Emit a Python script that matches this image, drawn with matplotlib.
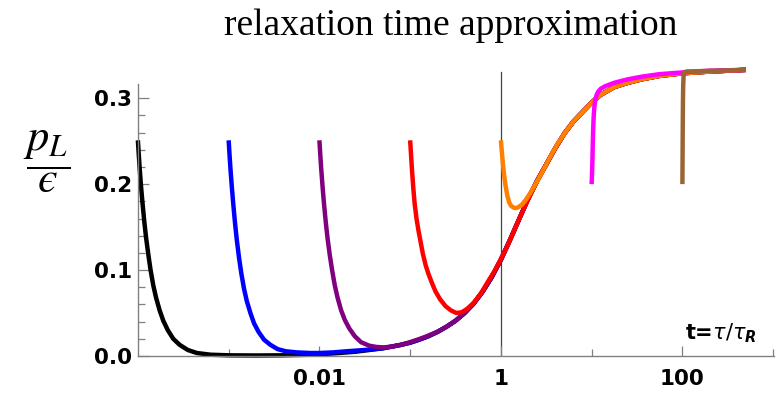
import numpy as np
import matplotlib
matplotlib.use("Agg")
import matplotlib.pyplot as plt
from matplotlib.ticker import FixedLocator, FixedFormatter, NullFormatter

# common late-time curve (log10 t, p_L/eps) that all solutions collapse onto
att_lgt = np.array([-1.3, -1.2, -1.1, -1.0, -0.9, -0.8, -0.7, -0.6, -0.5, -0.4, -0.3, -0.2, -0.1,
                    0.0, 0.1, 0.2, 0.3, 0.4, 0.5, 0.6, 0.7, 0.8, 0.9, 1.0, 1.1, 1.25, 1.4,
                    1.55, 1.75, 2.0, 2.3, 2.7])
att_pl = np.array([0.009, 0.011, 0.013, 0.0155, 0.019, 0.023, 0.028, 0.034, 0.041, 0.050, 0.061,
                   0.075, 0.092, 0.112, 0.135, 0.159, 0.183, 0.204, 0.223, 0.242, 0.259, 0.273,
                   0.284, 0.295, 0.304, 0.313, 0.318, 0.322, 0.326, 0.329, 0.331, 0.333])

# early-time parts of each solution, one per initial time
black_lgt = [-4.0, -3.99, -3.98, -3.965, -3.95, -3.93, -3.91, -3.885, -3.86, -3.83, -3.80, -3.76,
             -3.72, -3.67, -3.61, -3.54, -3.45, -3.35, -3.2, -3.0, -2.7, -2.4, -2.1, -1.85, -1.6]
black_pl = [0.251, 0.234, 0.218, 0.197, 0.179, 0.157, 0.138, 0.118, 0.100, 0.082, 0.068, 0.053,
            0.041, 0.030, 0.020, 0.013, 0.007, 0.0035, 0.0015, 0.0008, 0.0006, 0.0008, 0.0015,
            0.003, 0.005]

blue_lgt = [-3.0, -2.99, -2.98, -2.965, -2.95, -2.93, -2.91, -2.885, -2.86, -2.83, -2.80, -2.76,
            -2.72, -2.67, -2.61, -2.54, -2.46, -2.37, -2.25, -2.1, -2.0, -1.85, -1.7, -1.5]
blue_pl = [0.251, 0.234, 0.218, 0.197, 0.178, 0.155, 0.135, 0.114, 0.096, 0.078, 0.064, 0.050,
           0.038, 0.028, 0.019, 0.013, 0.008, 0.0055, 0.0042, 0.0035, 0.0035, 0.0042, 0.0055, 0.007]

purple_lgt = [-2.0, -1.99, -1.98, -1.965, -1.95, -1.93, -1.91, -1.885, -1.86, -1.83, -1.80, -1.76,
              -1.72, -1.67, -1.61, -1.54, -1.45, -1.37, -1.29, -1.2, -1.11, -1.02, -0.93, -0.84]
purple_pl = [0.251, 0.234, 0.218, 0.197, 0.178, 0.156, 0.137, 0.117, 0.100, 0.082, 0.068, 0.053,
             0.042, 0.032, 0.023, 0.016, 0.012, 0.0105, 0.010, 0.011, 0.0128, 0.0155, 0.0186, 0.022]

red_lgt = [-1.0, -0.99, -0.98, -0.965, -0.95, -0.93, -0.91, -0.885, -0.86, -0.83, -0.80, -0.76,
           -0.72, -0.67, -0.61, -0.55, -0.49, -0.43, -0.37, -0.30, -0.22, -0.14, -0.07, 0.0,
           0.08, 0.15, 0.22, 0.3]
red_pl = [0.251, 0.234, 0.217, 0.195, 0.177, 0.160, 0.147, 0.133, 0.119, 0.106, 0.096, 0.085,
          0.075, 0.066, 0.058, 0.053, 0.050, 0.051, 0.055, 0.062, 0.073, 0.087, 0.099, 0.113,
          0.130, 0.147, 0.164, 0.182]

orange_lgt = [0.0, 0.01, 0.02, 0.035, 0.05, 0.07, 0.09, 0.11, 0.135, 0.16, 0.19, 0.23, 0.27,
              0.32, 0.37, 0.42, 0.48, 0.55, 0.62, 0.7, 0.8, 0.9, 1.0, 1.1]
orange_pl = [0.251, 0.238, 0.226, 0.211, 0.199, 0.187, 0.179, 0.175, 0.173, 0.172, 0.173, 0.176,
             0.181, 0.189, 0.198, 0.207, 0.219, 0.233, 0.246, 0.259, 0.273, 0.284, 0.295, 0.304]

magenta_lgt = [1.0, 1.004, 1.008, 1.012, 1.016, 1.022, 1.03, 1.04, 1.055, 1.075, 1.1, 1.15, 1.25,
               1.4, 1.55, 1.75, 2.0, 2.3, 2.7]
magenta_pl = [0.200, 0.212, 0.226, 0.245, 0.262, 0.278, 0.290, 0.298, 0.304, 0.308, 0.311, 0.314,
              0.318, 0.322, 0.325, 0.328, 0.330, 0.332, 0.333]

brown_lgt = [2.0, 2.002, 2.004, 2.006, 2.009, 2.013, 2.02, 2.04, 2.2, 2.45, 2.7]
brown_pl = [0.200, 0.235, 0.270, 0.297, 0.316, 0.326, 0.330, 0.331, 0.3315, 0.3322, 0.333]

x_major = [0.01, 1, 100]
x_major_labels = ["0.01", "1", "100"]
x_minor = [0.001, 0.1, 10, 1000]
y_major = [0.0, 0.1, 0.2, 0.3]
y_major_labels = ["0.0", "0.1", "0.2", "0.3"]
y_minor = [0.02, 0.04, 0.06, 0.08, 0.12, 0.14, 0.16, 0.18, 0.22, 0.24, 0.26, 0.28]


def join_tail(lgt, pl):
    # append the shared curve after the last early-time point
    keep = att_lgt > lgt[-1] + 0.05
    t = 10.0 ** np.concatenate([lgt, att_lgt[keep]])
    return t, np.concatenate([pl, att_pl[keep]])


curves = [
    (join_tail(black_lgt, black_pl), "black"),
    (join_tail(blue_lgt, blue_pl), "#0000ff"),
    (join_tail(purple_lgt, purple_pl), "#800080"),
    (join_tail(red_lgt, red_pl), "#ff0000"),
    (join_tail(orange_lgt, orange_pl), "#ff8000"),
    ((10.0 ** np.array(magenta_lgt), np.array(magenta_pl)), "#ff00ff"),
    ((10.0 ** np.array(brown_lgt), np.array(brown_pl)), "#996633"),
]

fig = plt.figure(figsize=(7.79, 3.96), dpi=100)
ax = fig.add_axes([0.177, 0.101, 0.817, 0.727])
ax.set_xscale("log")
ax.set_xlim(1e-4, 1.03e3)
ax.set_ylim(0, 0.335)

ax.plot([1, 1], [0, 0.330], color="#444444", lw=0.9, zorder=1)
for (t, pl), c in curves:
    ax.plot(t, pl, color=c, lw=3.2, solid_capstyle="butt", solid_joinstyle="round",
            clip_on=False, zorder=2)

for s in ["top", "right"]:
    ax.spines[s].set_visible(False)
for s in ["left", "bottom"]:
    ax.spines[s].set_color("#808080")
    ax.spines[s].set_linewidth(1.0)
ax.spines["left"].set_bounds(0, 0.316)

ax.xaxis.set_major_locator(FixedLocator(x_major))
ax.xaxis.set_major_formatter(FixedFormatter(x_major_labels))
ax.xaxis.set_minor_locator(FixedLocator(x_minor))
ax.xaxis.set_minor_formatter(NullFormatter())
ax.yaxis.set_major_locator(FixedLocator(y_major))
ax.yaxis.set_major_formatter(FixedFormatter(y_major_labels))
ax.yaxis.set_minor_locator(FixedLocator(y_minor))

ax.tick_params(which="both", direction="in", color="#808080", width=0.9)
ax.tick_params(axis="y", which="major", length=8, pad=4)
ax.tick_params(axis="y", which="minor", length=5)
ax.tick_params(axis="x", which="major", length=7, pad=9)
ax.tick_params(axis="x", which="minor", length=5)
for lab in ax.get_xticklabels() + ax.get_yticklabels():
    lab.set_fontfamily("DejaVu Sans")
    lab.set_fontweight("bold")
    lab.set_fontsize(15.5)

ax.text(0.973, 0.056, r"t=$\tau/\tau_{\mathbfit{R}}$", transform=ax.transAxes,
        ha="right", va="baseline", fontsize=15, fontweight="bold",
        family="DejaVu Sans", math_fontfamily="dejavusans")

fig.text(0.578, 0.912, "relaxation time approximation", ha="center", va="baseline",
         fontsize=27, family="Liberation Serif")
fig.text(0.060, 0.593, "$\\dfrac{p_L}{\u03f5}$", ha="center", va="center",
         fontsize=32, math_fontfamily="stix")

fig.savefig("out.png", dpi=100)
